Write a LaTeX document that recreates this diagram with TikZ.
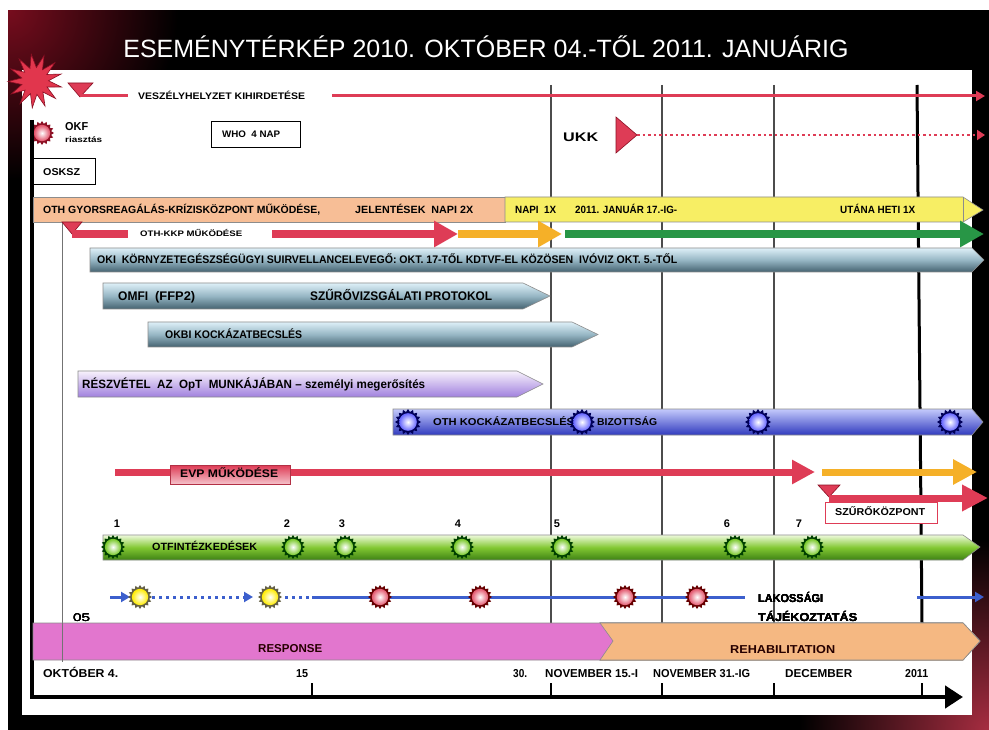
\documentclass[tikz,border=0pt]{standalone}
\usepackage{fontspec}
\setmainfont{Liberation Sans}
\usepackage{graphicx}
\usetikzlibrary{arrows.meta,shapes.geometric}
\definecolor{cred}{RGB}{222,60,86}
\definecolor{darkred}{RGB}{140,15,35}
\definecolor{corg}{RGB}{245,176,40}
\definecolor{cgrn}{RGB}{40,150,70}
\definecolor{cpeach}{RGB}{247,190,150}
\definecolor{cyel}{RGB}{247,238,100}
\definecolor{steelT}{RGB}{222,240,248}
\definecolor{steelM}{RGB}{150,182,196}
\definecolor{steelB}{RGB}{68,98,112}
\definecolor{purT}{RGB}{248,242,252}
\definecolor{purB}{RGB}{160,128,222}
\definecolor{bluT}{RGB}{196,202,252}
\definecolor{bluB}{RGB}{48,58,190}
\definecolor{grnT}{RGB}{238,250,220}
\definecolor{grnM}{RGB}{130,200,50}
\definecolor{grnB}{RGB}{62,130,20}
\definecolor{cpink}{RGB}{226,118,206}
\definecolor{corng}{RGB}{245,184,130}
\definecolor{cblue}{RGB}{60,95,205}
\definecolor{gburst}{RGB}{120,200,40}
\newcommand\mylab[7]{%
  \pgfmathsetmacro\mytw{#3-#2}%
  \pgfmathsetmacro\myty{#4+0.358*#5}%
  \node[anchor=base west, inner sep=0pt, font=\bfseries\fontsize{#5}{#5}\selectfont, #6] (#1) at (#2,\myty) {\resizebox{\mytw pt}{\height}{#7}};}
\newcommand\mynum[3]{%
  \node[anchor=base, inner sep=0pt, font=\bfseries\fontsize{11}{11}\selectfont] (#1) at (#2,527) {#3};}
\newcommand\mkburst[6]{%
  \node[star, star points=16, star point ratio=1.28, minimum size=#6pt, inner sep=0pt, fill=#4] (#1) at (#2,#3) {};
  \shade[inner color=white, outer color=#5] (#1.center) circle[radius={0.34*#6pt}];}
\begin{document}
\begin{tikzpicture}[x=1pt,y=-1pt,
  gridln/.style={draw=black!70, line width=1.2pt},
  fatarrow/.style={line width=8pt, -{Triangle[length=24pt,width=25pt]}},
  thinarrow/.style={line width=3pt, -{Triangle[length=9pt,width=10pt]}},
  boxed/.style={draw=black, line width=1.3pt, fill=white, inner sep=0pt, anchor=north west},
  barline/.style={draw=black!45, line width=0.6pt},
  steelbar/.style={barline, top color=steelT, bottom color=steelB, middle color=steelM},
  tri/.style={fill=cred, draw=darkred, line width=0.6pt}]
\useasboundingbox (0,0) rectangle (989,730);
% frame
\fill[black] (8,10) rectangle (989,730);
\shade[inner color=darkred!85!black, outer color=black] (8,10) circle[radius=170pt];
\shade[inner color=cred!75!black, outer color=black] (989,730) circle[radius=190pt];
\fill[white] (0,0) rectangle (989,10);
\fill[white] (0,0) rectangle (8,730);
\fill[white] (22,70) rectangle (972,715);
\node[text=white, anchor=base, inner sep=0pt, font=\fontsize{25}{25}\selectfont] (title) at (486,58) {ESEMÉNYTÉRKÉP 2010. OKTÓBER 04.-TŐL 2011. JANUÁRIG};
% grid lines
\draw[gridln] (551,85) -- (551,623);
\draw[gridln] (662,85) -- (662,623);
\draw[gridln] (774,85) -- (774,623);
\draw[black, line width=3pt] (917,85) -- (922,623);
\draw[black!55, line width=0.8pt] (62,222) -- (62,662);
% row 1: veszelyhelyzet
\fill[tri] (68,83) -- (93,83) -- (80,97) coordinate (t1) -- cycle;
\mylab{vesz}{138}{305}{96}{9.5}{}{VESZÉLYHELYZET KIHIRDETÉSE}
\coordinate (v1) at (128,96);
\coordinate (v2) at (332,96);
\coordinate (v3) at (985,96);
\draw[cred, line width=3pt] (t1 |- v1) -- (v1);
\draw[cred, thinarrow] (v2) -- (v3);
% OKF, WHO, OSKSZ, UKK
\mkburst{okf}{42}{133}{darkred}{cred!90!white}{24}
\mylab{okft}{65}{88}{126}{11.5}{}{OKF}
\mylab{riaszt}{65}{102}{140}{8}{}{riasztás}
\node[boxed, minimum width=89pt, minimum height=26pt] (who) at (211,121) {};
\mylab{whot}{222}{280}{134}{9.5}{}{WHO\ \ 4 NAP}
\node[boxed, minimum width=62pt, minimum height=26pt] (osk) at (33,158) {};
\mylab{oskt}{43}{80}{172}{10}{}{OSKSZ}
\mylab{ukk}{563}{598}{137}{12.5}{}{UKK}
\fill[tri] (616,117) -- (637,135) coordinate (u1) -- (616,153) -- cycle;
\coordinate (u2) at (985,135);
\draw[cred, line width=2.5pt, dash pattern=on 2.5pt off 3pt, -{Triangle[length=8pt,width=10pt]}] (u1) -- (u2);
% L axis
\draw[black, line width=4.5pt, -{Triangle[length=18pt,width=22pt]}] (32,120) -- (32,697) -- (963,697);
\foreach \tx/\tw in {312/1.5, 551/1.5, 662/1.5, 774/1.5, 922/2.5}
  \draw[black, line width=\tw pt] (\tx,683) -- (\tx,697);
% orange / yellow bar
\path[barline, fill=cpeach] (33,197) rectangle (505,222);
\path[barline, fill=cyel] (505,197) -- (963,197) -- (983,210) -- (963,222) -- (505,222) -- cycle;
\draw[black!45, line width=0.6pt] (963,197) -- (963,222);
\mylab{oth}{43}{320}{210}{10.5}{}{OTH GYORSREAGÁLÁS-KRÍZISKÖZPONT MŰKÖDÉSE,}
\mylab{jel}{355}{473}{210}{10.5}{}{JELENTÉSEK\ \ NAPI 2X}
\mylab{napi}{515}{556}{210}{10.5}{}{NAPI\ \ 1X}
\mylab{jan}{575}{677}{210}{10.5}{}{2011. JANUÁR 17.-IG-}
\mylab{utana}{840}{915}{210}{10.5}{}{UTÁNA HETI 1X}
% row OTH-KKP
\fill[tri] (62,222) -- (82,222) -- (72,234) coordinate (t2) -- cycle;
\mylab{kkp}{140}{242}{234}{8}{}{OTH-KKP MŰKÖDÉSE}
\coordinate (k1) at (128,234);
\coordinate (k2) at (272,234);
\coordinate (k3) at (458,234);
\coordinate (k4) at (562,234);
\coordinate (k5) at (565,234);
\coordinate (k6) at (984,234);
\draw[cred, line width=8pt] (t2) -- (k1);
\draw[cred, fatarrow] (k2) -- (k3);
\draw[corg, fatarrow] (k3) -- (k4);
\draw[cgrn, fatarrow] (k5) -- (k6);
% steel bars
\path[steelbar] (90,248) -- (972,248) -- (984,260) -- (972,272) -- (90,272) -- cycle;
\mylab{oki}{97}{677}{260}{11}{}{OKI\ \ KÖRNYZETEGÉSZSÉGÜGYI SUIRVELLANCELEVEGŐ: OKT. 17-TŐL KDTVF-EL KÖZÖSEN\ \ IVÓVIZ OKT. 5.-TŐL}
\path[steelbar] (103,283) -- (523,283) -- (550,296) -- (523,309) -- (103,309) -- cycle;
\mylab{omfi}{118}{148}{296}{12.5}{}{OMFI}
\mylab{ffp}{155}{195}{296}{12.5}{}{(FFP2)}
\mylab{szuro}{310}{492}{296}{12.5}{}{SZŰRŐVIZSGÁLATI PROTOKOL}
\path[steelbar] (148,322) -- (572,322) -- (598,334.5) -- (572,347) -- (148,347) -- cycle;
\mylab{okbi}{165}{302}{335}{11}{}{OKBI KOCKÁZATBECSLÉS}
% purple bar
\path[barline, top color=purT, bottom color=purB] (78,371) -- (517,371) -- (543,384) -- (517,397) -- (78,397) -- cycle;
\mylab{opt}{82}{425}{384}{12}{}{RÉSZVÉTEL\ \ AZ\ \ OpT\ \ MUNKÁJÁBAN – személyi megerősítés}
% blue bar
\path[barline, top color=bluT, bottom color=bluB] (393,409) -- (972,409) -- (983,422) -- (972,435) -- (393,435) -- cycle;
\mylab{bizt1}{433}{577}{422}{10}{}{OTH KOCKÁZATBECSLÉSI}
\mylab{bizt2}{597}{657}{422}{10}{}{BIZOTTSÁG}
\mkburst{b1}{408}{422}{blue!35!black}{blue!60!white}{26}
\mkburst{b2}{582}{422}{blue!35!black}{blue!60!white}{26}
\mkburst{b3}{758}{422}{blue!35!black}{blue!60!white}{26}
\mkburst{b4}{950}{422}{blue!35!black}{blue!60!white}{26}
% EVP row
\coordinate (e1) at (115,472);
\coordinate (e2) at (815,472);
\draw[cred, line width=7pt, -{Triangle[length=23pt,width=23pt]}] (e1) -- (e2);
\node[draw=cred!80!black, line width=0.6pt, top color=cred, bottom color=cred!30!white, minimum width=120pt, minimum height=19pt, inner sep=0pt, anchor=north west] (evpbox) at (170,465) {};
\mylab{evp}{180}{278}{474}{11}{}{EVP MŰKÖDÉSE}
\coordinate (y1) at (822,472);
\coordinate (y2) at (977,472);
\draw[corg, line width=7pt, -{Triangle[length=24pt,width=24pt]}] (y1) -- (y2);
\fill[tri] (818,485) -- (840,485) -- (829,497) coordinate (t3) -- cycle;
\coordinate (r2) at (988,498);
\draw[cred, line width=7pt, -{Triangle[length=26pt,width=25pt]}] (t3 |- r2) -- (r2);
\node[draw=cred, line width=1pt, fill=white, minimum width=112pt, minimum height=21pt, inner sep=0pt, anchor=north west] (szbox) at (825,502) {};
\mylab{szk}{835}{925}{512}{10}{}{SZŰRŐKÖZPONT}
% OTF numbers & green bar
\mynum{n1}{117}{1}
\mynum{n2}{287}{2}
\mynum{n3}{342}{3}
\mynum{n4}{458}{4}
\mynum{n5}{557}{5}
\mynum{n6}{727}{6}
\mynum{n7}{799}{7}
\path[barline, top color=grnT, bottom color=grnB, middle color=grnM] (103,535) -- (963,535) -- (980,547) -- (963,560) -- (103,560) -- cycle;
\mylab{otf}{152}{257}{547}{10.5}{}{OTFINTÉZKEDÉSEK}
\foreach \gx [count=\gi] in {113,293,345,462,562,735,812}
  \mkburst{g\gi}{\gx}{547}{green!25!black}{gburst}{24}
% lakossagi row
\coordinate (l0) at (110,597);
\coordinate (l2) at (253,597);
\coordinate (l4) at (310,597);
\coordinate (l5) at (312,597);
\coordinate (l6) at (745,597);
\coordinate (l7) at (917,597);
\coordinate (l8) at (984,597);
\draw[cblue, line width=3pt, -{Triangle[length=9pt,width=10pt]}] (l0) -- (130,597) coordinate (l1);
\draw[cblue, line width=3pt, dash pattern=on 3pt off 4pt] (152,597) coordinate (l1b) -- (243,597);
\draw[cblue, line width=3pt, -{Triangle[length=9pt,width=10pt]}] (243,597) -- (l2);
\draw[cblue, line width=3pt, dash pattern=on 3pt off 4pt] (285,597) coordinate (l3) -- (l4);
\draw[cblue, line width=3pt] (l5) -- (l6);
\draw[cblue, line width=3pt, -{Triangle[length=9pt,width=10pt]}] (l7) -- (l8);
\mkburst{y1b}{140}{597}{yellow!30!black}{yellow!85!orange}{24}
\mkburst{y2b}{270}{597}{yellow!30!black}{yellow!85!orange}{24}
\foreach \px [count=\pi] in {380,480,625,697}
  \mkburst{p\pi}{\px}{597}{red!40!black}{cred!85!white}{24}
\mylab{lak1}{758}{823}{598}{11.5}{}{LAKOSSÁGI}
\mylab{lak2}{758}{857}{617}{11.5}{}{TÁJÉKOZTATÁS}
\mylab{o5}{73}{90}{618}{11}{font=\fontsize{11}{11}\selectfont}{05}
% phases
\path[barline, fill=corng] (600,623) -- (963,623) -- (980,641) -- (963,660) -- (600,660) -- cycle;
\path[barline, fill=cpink] (33,623) -- (600,623) -- (613,641) -- (600,660) -- (33,660) -- cycle;
\draw[black!55, line width=0.8pt] (62,623) -- (62,662);
\mylab{resp}{258}{322}{648}{11.5}{text=black!85!red}{RESPONSE}
\mylab{rehab}{730}{835}{649}{11.5}{text=black!85!red}{REHABILITATION}
% axis labels
\mylab{ax1}{43}{118}{673}{11.5}{}{OKTÓBER 4.}
\mylab{ax2}{296}{308}{673}{11.5}{}{15}
\mylab{ax3}{513}{527}{673}{11.5}{}{30.}
\mylab{ax4}{545}{638}{673}{11.5}{}{NOVEMBER 15.-I}
\mylab{ax5}{653}{750}{673}{11.5}{}{NOVEMBER 31.-IG}
\mylab{ax6}{785}{852}{673}{11.5}{}{DECEMBER}
\mylab{ax7}{905}{928}{673}{11.5}{}{2011}
% red starburst
\node[star, star points=13, star point ratio=2, minimum size=54pt, inner sep=0pt, fill=cred!90!red, draw=darkred, line width=0.6pt, rotate=8] (bang) at (35,81) {};
\end{tikzpicture}
\end{document}
